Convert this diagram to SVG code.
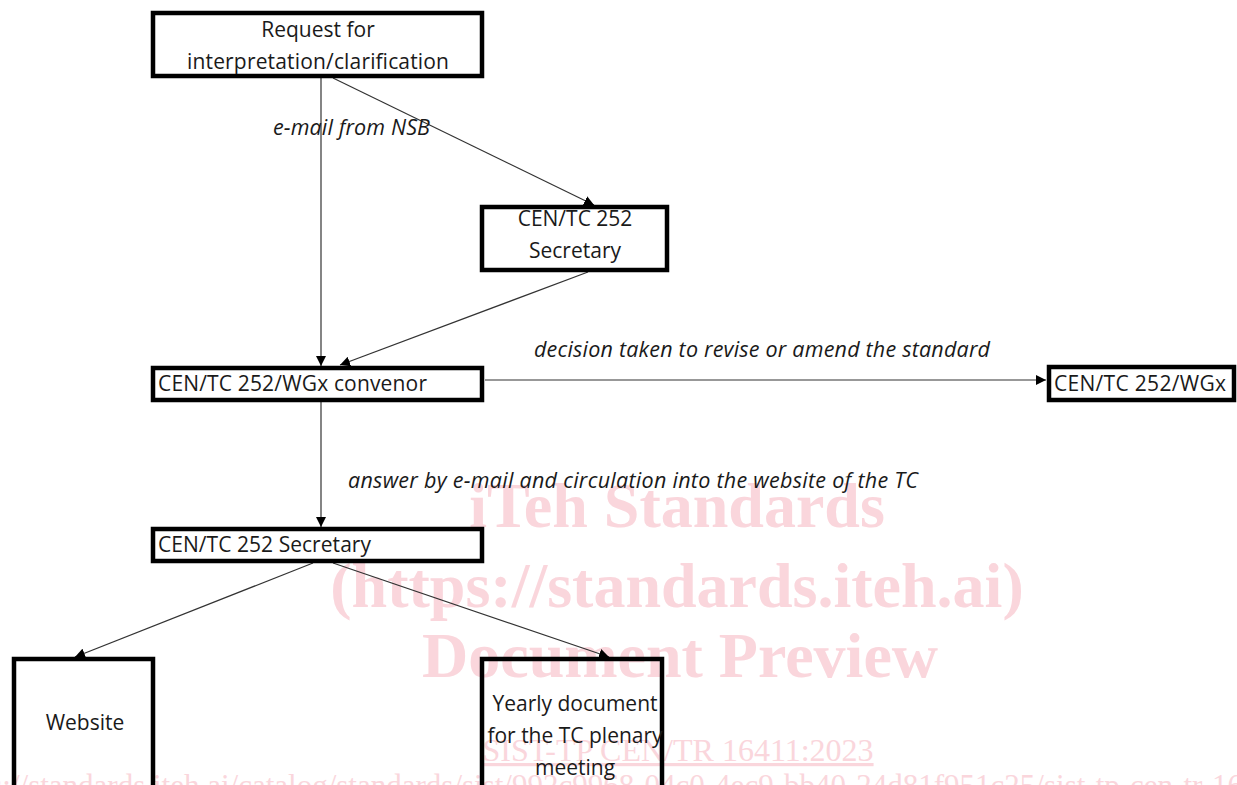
<svg xmlns="http://www.w3.org/2000/svg" width="1237" height="785" viewBox="0 0 1237 785">
<style>
.box{fill:none;stroke:#000;stroke-width:4.5}
.t{font-family:"Open Sans","Noto Sans","Liberation Sans",sans-serif;font-size:21px;fill:#1a1a1a}
.c{text-anchor:middle}
.lbl{font-family:"Open Sans","Noto Sans","Liberation Sans",sans-serif;font-size:21.5px;font-style:italic;fill:#1a1a1a}
.ln{stroke:#333;stroke-width:1.2;fill:none;marker-end:url(#ah)}
.wm{font-family:"Liberation Serif","DejaVu Serif",serif;fill:#fad6dc;text-anchor:middle}
</style>
<defs>
<marker id="ah" viewBox="0 0 10 10" refX="10" refY="5" markerWidth="10" markerHeight="10" markerUnits="userSpaceOnUse" orient="auto">
<path d="M0,0 L10,5 L0,10 z" fill="#000"/>
</marker>
</defs>
<rect width="1237" height="785" fill="#fff"/>
<g id="watermark">
<text class="wm" x="677" y="527" font-size="64" font-weight="bold">iTeh Standards</text>
<text class="wm" x="677" y="607" font-size="64" font-weight="bold">(https://standards.iteh.ai)</text>
<text class="wm" x="680" y="677" font-size="64" font-weight="bold">Document Preview</text>
<text class="wm" x="678" y="761" font-size="32" text-decoration="underline">SIST-TP CEN/TR 16411:2023</text>
<text class="wm" x="-58" y="796" font-size="31" style="text-anchor:start">https://standards.iteh.ai/catalog/standards/sist/992c9968-04c0-4ec9-bb40-24d81f951c25/sist-tp-cen-tr-16411-2023</text>
</g>
<g id="connectors">
<line class="ln" x1="321" y1="78" x2="321" y2="366"/>
<line class="ln" x1="333" y1="78" x2="594" y2="205"/>
<line class="ln" x1="588" y1="272" x2="340" y2="365"/>
<line class="ln" x1="485" y1="380" x2="1046" y2="380"/>
<line class="ln" x1="321" y1="402" x2="321" y2="527"/>
<line class="ln" x1="313" y1="563" x2="75" y2="657"/>
<line class="ln" x1="333" y1="563" x2="609" y2="657"/>
<text class="lbl" x="273" y="135" textLength="157">e-mail from NSB</text>
<text class="lbl" x="534" y="357" textLength="456">decision taken to revise or amend the standard</text>
<text class="lbl" x="348" y="488" textLength="570">answer by e-mail and circulation into the website of the TC</text>
</g>
<g id="request">
<rect class="box" x="153" y="13" width="329" height="63"/>
<text class="t c" x="318" y="37">Request for</text>
<text class="t c" x="318" y="69" textLength="262">interpretation/clarification</text>
</g>
<g id="secretary1">
<rect class="box" x="482" y="207" width="185" height="63"/>
<text class="t c" x="575" y="226">CEN/TC 252</text>
<text class="t c" x="575" y="258">Secretary</text>
</g>
<g id="convenor">
<rect class="box" x="153" y="368" width="329" height="32"/>
<text class="t" x="158" y="391" textLength="269">CEN/TC 252/WGx convenor</text>
</g>
<g id="wgx">
<rect class="box" x="1049" y="367" width="185" height="33"/>
<text class="t" x="1054" y="391" textLength="172">CEN/TC 252/WGx</text>
</g>
<g id="secretary2">
<rect class="box" x="153" y="529" width="329" height="32"/>
<text class="t" x="158" y="552" textLength="213">CEN/TC 252 Secretary</text>
</g>
<g id="website">
<rect class="box" x="14" y="659" width="139" height="140"/>
<text class="t c" x="85" y="730">Website</text>
</g>
<g id="yearly">
<rect class="box" x="482" y="659" width="180" height="140"/>
<text class="t c" x="575" y="711">Yearly document</text>
<text class="t c" x="575" y="743">for the TC plenary</text>
<text class="t c" x="575" y="775">meeting</text>
</g>
</svg>
